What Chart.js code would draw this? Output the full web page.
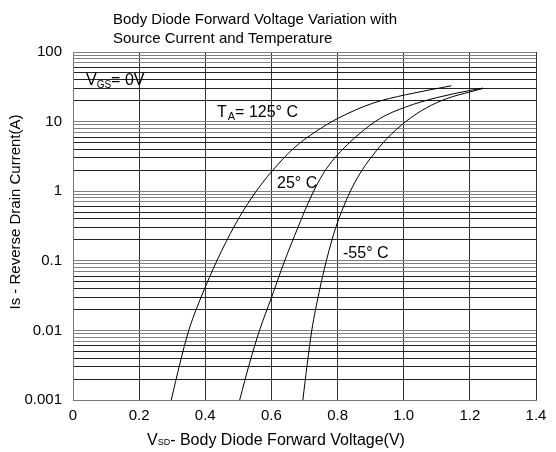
<!DOCTYPE html>
<html>
<head>
<meta charset="utf-8">
<script src="https://cdn.jsdelivr.net/npm/chart.js@4/dist/chart.umd.min.js"></script>
<style>
html,body{margin:0;padding:0;background:#fff;}
#wrap{width:556px;height:452px;position:relative;}
</style>
</head>
<body>
<div id="wrap"><canvas id="c" width="556" height="452"></canvas></div>
<script>
// ---- data ----
const xTickLabels = ['0', '0.2', '0.4', '0.6', '0.8', '1.0', '1.2', '1.4'];
const yTickLabels = ['0.001', '0.01', '0.1', '1', '10', '100'];
const yDecades = [0.001, 0.01, 0.1, 1, 10, 100];

// T_A = 125 °C
const v125 = [0.297, 0.323, 0.350, 0.375, 0.400, 0.448, 0.504, 0.554, 0.600, 0.668, 0.735, 0.802, 0.907, 1.006, 1.144];
const i125 = [0.001, 0.0033, 0.010, 0.0214, 0.042, 0.135, 0.43, 1.0, 1.9, 4.17, 7.24, 11.2, 18.4, 24.3, 32.7];

// 25 °C
const v25 = [0.504, 0.534, 0.564, 0.600, 0.640, 0.680, 0.710, 0.735, 0.760, 0.790, 0.830, 0.867, 0.927, 1.006, 1.100, 1.200, 1.240];
const i25 = [0.001, 0.0034, 0.010, 0.0295, 0.10, 0.30, 0.66, 1.17, 1.9, 2.95, 4.68, 6.76, 11.0, 16.2, 22.1, 28.0, 30.3];

// -55 °C
const vm55 = [0.695, 0.708, 0.722, 0.744, 0.766, 0.794, 0.820, 0.845, 0.875, 0.907, 0.950, 1.006, 1.069, 1.130, 1.203, 1.240];
const im55 = [0.001, 0.0032, 0.010, 0.035, 0.10, 0.295, 0.63, 1.15, 2.04, 3.3, 5.75, 10.0, 15.8, 21.4, 26.9, 30.0];

const seriesNames = ['125° C', '25° C', '-55° C'];

function pts(xs, ys){ return xs.map((x,i)=>({x:x, y:ys[i]})); }

const FONT = '"Liberation Sans", Arial, sans-serif';

// gridline values for the log axis (1..9 per decade)
const yGridValues = [];
for (let d = 0; d < yDecades.length; d++) {
  const base = yDecades[d];
  if (d === yDecades.length - 1) { yGridValues.push(base); break; }
  for (let k = 1; k <= 9; k++) yGridValues.push(+(base * k).toPrecision(3));
}

const textPlugin = {
  id: 'texts',
  afterDraw(chart) {
    const ctx = chart.ctx;
    ctx.save();
    ctx.fillStyle = '#000';
    ctx.textBaseline = 'alphabetic';
    ctx.textAlign = 'left';
    // title
    ctx.font = '15px ' + FONT;
    ctx.fillText('Body Diode Forward Voltage Variation with', 113, 24);
    ctx.fillText('Source Current and Temperature', 113, 43);

    function sub(parts, x, y) {
      let cx = x;
      for (const p of parts) {
        ctx.font = p.size + 'px ' + FONT;
        ctx.fillText(p.t, cx, y + (p.dy || 0));
        cx += ctx.measureText(p.t).width + (p.gap || 0);
      }
    }
    // V_GS = 0V
    sub([{t:'V', size:16}, {t:'GS', size:10, dy:3}, {t:'= 0V', size:16}], 86, 85);
    // T_A = 125° C
    sub([{t:'T', size:16, gap:1}, {t:'A', size:11, dy:3}, {t:'= ' + seriesNames[0], size:16}], 217, 117);
    ctx.font = '16px ' + FONT;
    ctx.fillText(seriesNames[1], 277, 188);
    ctx.fillText(seriesNames[2], 343, 258);
    // x title
    sub([{t:'V', size:16}, {t:'SD', size:9, dy:0}, {t:'- Body Diode Forward Voltage(V)', size:16}], 147, 445);
    // y title
    ctx.translate(20, 212);
    ctx.rotate(-Math.PI/2);
    ctx.textAlign = 'center';
    ctx.font = '15px ' + FONT;
    ctx.fillText('Is - Reverse Drain Current(A)', 0, 0);
    ctx.restore();
  }
};

new Chart(document.getElementById('c'), {
  type: 'line',
  data: {
    datasets: [
      {label: seriesNames[0], data: pts(v125, i125)},
      {label: seriesNames[1], data: pts(v25, i25)},
      {label: seriesNames[2], data: pts(vm55, im55)}
    ].map(d => Object.assign(d, {
      borderColor: '#000', borderWidth: 1, pointRadius: 0, fill: false,
      cubicInterpolationMode: 'monotone', clip: false
    }))
  },
  options: {
    responsive: false,
    animation: false,
    devicePixelRatio: 1,
    layout: {padding: {top: 52, right: 20, left: 0, bottom: 0}},
    plugins: {legend: {display: false}, title: {display: false}, tooltip: {enabled: false}},
    scales: {
      x: {
        type: 'linear', min: 0, max: 1.4,
        afterFit(s) { s.height = 52; },
        afterBuildTicks(s) { s.ticks = xTickLabels.map((l, i) => ({value: i * 0.2})); },
        ticks: {
          color: '#000', padding: 7, font: {family: FONT, size: 15},
          maxRotation: 0, autoSkip: false,
          callback: (v, i) => xTickLabels[i]
        },
        grid: {color: '#333', lineWidth: 1, drawTicks: false},
        border: {color: '#777', width: 1}
      },
      y: {
        type: 'logarithmic', min: 0.001, max: 100,
        afterFit(s) { s.width = 73; },
        afterBuildTicks(s) { s.ticks = yGridValues.map(v => ({value: v})); },
        ticks: {
          color: '#000', padding: 11, font: {family: FONT, size: 15}, autoSkip: false,
          callback: (v) => {
            const idx = yDecades.findIndex(d => Math.abs(d - v) / d < 1e-6);
            return idx >= 0 ? yTickLabels[idx] : '';
          }
        },
        grid: {
          color: (c) => {
            const v = c.tick ? c.tick.value : 0;
            const m = Math.round(v / Math.pow(10, Math.floor(Math.log10(v) + 1e-9)));
            return (m === 1 || m >= 7) ? '#808080' : '#222';
          },
          lineWidth: 1, drawTicks: false
        },
        border: {color: '#777', width: 1}
      }
    }
  },
  plugins: [textPlugin]
});
</script>
</body>
</html>
